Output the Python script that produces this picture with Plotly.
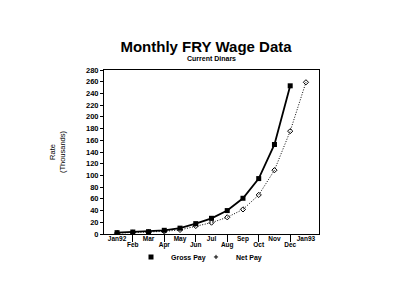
import plotly.graph_objects as go

months = ["Jan92", "Feb", "Mar", "Apr", "May", "Jun", "Jul", "Aug", "Sep", "Oct", "Nov", "Dec", "Jan93"]
gross_pay = [2.3, 3.4, 4.0, 6.3, 10.0, 17.7, 26.8, 40.0, 61.0, 94.6, 152.8, 253.0, None]
net_pay = [1.5, 2.3, 3.0, 4.5, 7.0, 13.7, 19.4, 28.5, 42.0, 66.7, 109.0, 175.6, 259.0]
y_ticks = list(range(0, 281, 20))

xs = list(range(len(months)))
FONT = "Liberation Sans, Arial, sans-serif"
BLACK = "#000000"

gross_marker = dict(symbol="square", size=5, color=BLACK)
net_marker = dict(symbol="diamond-open", size=4, color=BLACK, line=dict(width=1, color=BLACK))

fig = go.Figure()
fig.add_trace(go.Scatter(
    x=xs, y=gross_pay, mode="lines+markers", showlegend=False,
    line=dict(color=BLACK, width=1.8), marker=gross_marker,
))
fig.add_trace(go.Scatter(
    x=xs, y=net_pay, mode="lines+markers", showlegend=False,
    line=dict(color=BLACK, width=1, dash="1px,1.6px"), marker=net_marker,
))
# legend entries (marker only, as in the reference)
fig.add_trace(go.Scatter(x=[None], y=[None], mode="markers", name="<b>Gross Pay</b>",
                         marker=gross_marker, legend="legend"))
fig.add_trace(go.Scatter(x=[None], y=[None], mode="markers", name="<b>Net Pay</b>",
                         marker=dict(symbol="cross-thin-open", size=3, color=BLACK,
                                     line=dict(width=1, color=BLACK)), legend="legend2"))
# invisible trace to enable xaxis2
fig.add_trace(go.Scatter(x=[xs[0]], y=[None], xaxis="x2", showlegend=False, hoverinfo="skip"))

upper_idx = [i for i in xs if i % 2 == 0]
lower_idx = [i for i in xs if i % 2 == 1]

legend_common = dict(orientation="h", yanchor="middle", y=-0.14, xanchor="left",
                     font=dict(size=7, color=BLACK, family=FONT), bgcolor="rgba(0,0,0,0)",
                     itemwidth=30)

fig.update_layout(
    template="none",
    width=400, height=304,
    margin=dict(l=104, r=81, t=70, b=70),
    paper_bgcolor="white", plot_bgcolor="white",
    font=dict(family=FONT, color=BLACK, size=7),
    title=dict(text="<b>Monthly FRY Wage Data</b>", x=0.515, xanchor="center",
               y=1 - 47 / 304, yanchor="middle", font=dict(size=15, family=FONT, color=BLACK)),
    annotations=[dict(text="<b>Current Dinars</b>", x=0.5, xref="paper", y=(234 - 59) / 164,
                      yref="paper", yanchor="middle", showarrow=False,
                      font=dict(size=7, family=FONT, color=BLACK))],
    xaxis=dict(range=[-0.83, 12.83], tickvals=upper_idx, ticktext=[f"<b>{months[i]}</b>" for i in upper_idx],
               ticks="", showline=True, linecolor=BLACK, linewidth=1, mirror=True,
               showgrid=False, zeroline=False, tickfont=dict(size=6.5, color=BLACK),
               ticklabelstandoff=-2),
    xaxis2=dict(range=[-0.83, 12.83], overlaying="x", side="bottom", anchor="y",
                tickvals=lower_idx, ticktext=[f"<b>{months[i]}</b>" for i in lower_idx],
                ticks="outside", ticklen=7, tickcolor=BLACK, tickwidth=1,
                showline=False, showgrid=False, zeroline=False,
                tickfont=dict(size=6.5, color=BLACK), ticklabelstandoff=-3),
    yaxis=dict(range=[0, 280], tickvals=y_ticks, ticktext=[f"<b>{v}</b>" for v in y_ticks],
               ticks="outside", ticklen=3, tickcolor=BLACK,
               showline=True, linecolor=BLACK, linewidth=1, mirror=True,
               showgrid=False, zeroline=False, tickfont=dict(size=7.5, color=BLACK),
               title=dict(text="Rate<br>(Thousands)", font=dict(size=7.5, color=BLACK), standoff=19)),
    legend=dict(legend_common, x=(150 - 104 - 19) / 215),
    legend2=dict(legend_common, x=(215 - 104 - 19) / 215),
)

fig.write_html("out.html")
